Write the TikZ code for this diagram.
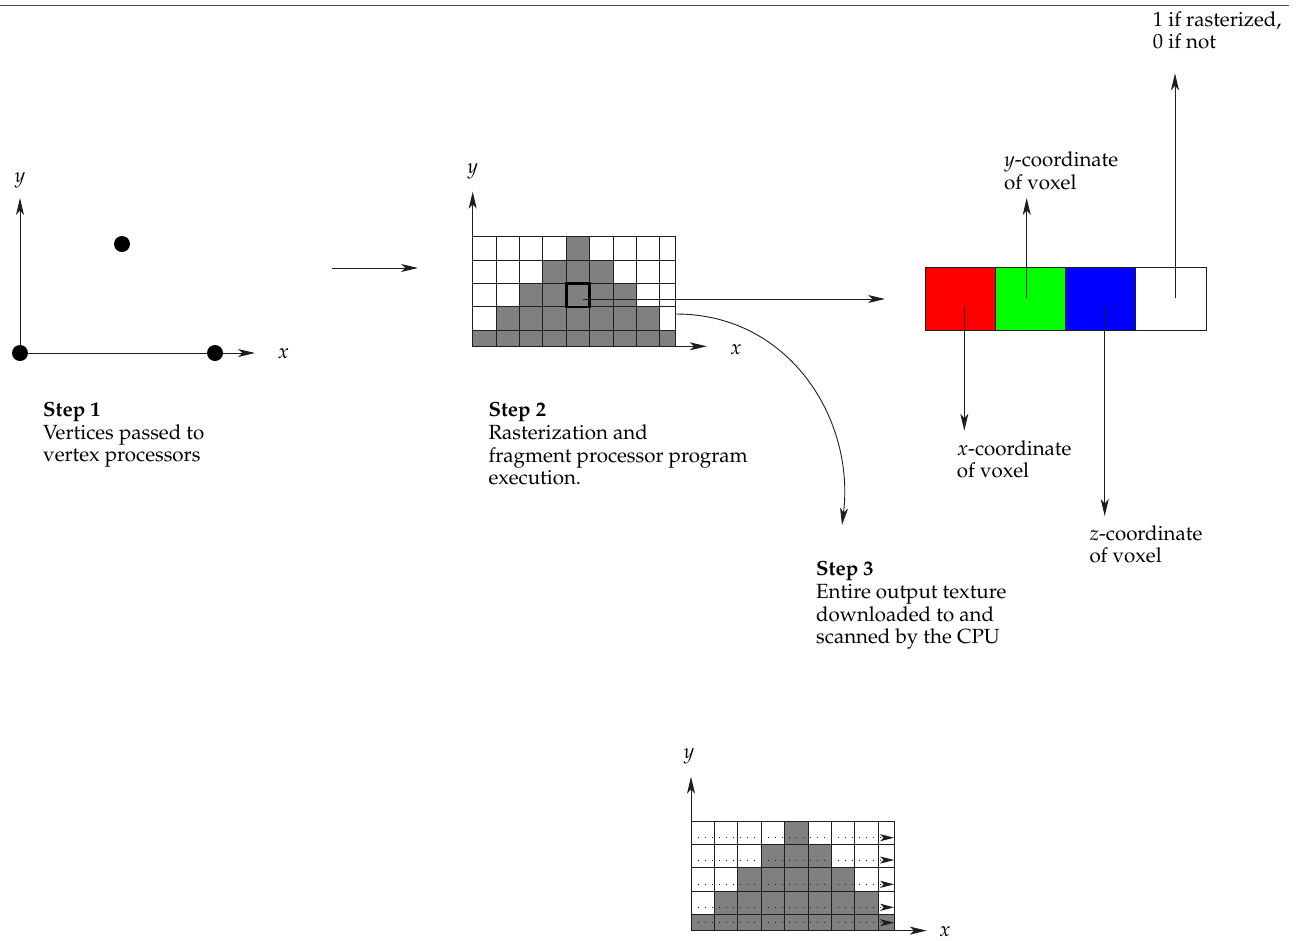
\documentclass[tikz,border=0pt]{standalone}
\usepackage[T1]{fontenc}
\usepackage{mathpazo}
\usetikzlibrary{arrows.meta,calc}
\definecolor{cellgray}{RGB}{128,128,128}
\definecolor{ink}{RGB}{30,30,30}

% one raster of fragments: 8 full columns plus a partial one, 4 full rows plus a partial one
\tikzset{
  gridline/.style={draw=ink, line width=1pt},
  raster/.pic={
    \def\rcell{23.4}
    \fill[cellgray] (4*\rcell,0) rectangle (5*\rcell,\rcell);
    \fill[cellgray] (3*\rcell,\rcell) rectangle (6*\rcell,2*\rcell);
    \fill[cellgray] (2*\rcell,2*\rcell) rectangle (7*\rcell,3*\rcell);
    \fill[cellgray] (\rcell,3*\rcell) rectangle (8*\rcell,4*\rcell);
    \fill[cellgray] (0,4*\rcell) rectangle (203.2,109.6);
    \foreach \k in {1,...,8} \draw[gridline] (\k*\rcell,0) -- (\k*\rcell,109.6);
    \foreach \k in {1,...,4} \draw[gridline] (0,\k*\rcell) -- (203.2,\k*\rcell);
    \draw[gridline] (0,0) rectangle (203.2,109.6);
    \coordinate (-nw) at (0,0);
    \coordinate (-sw) at (0,109.6);
    \coordinate (-ne) at (203.2,0);
  }
}

\begin{document}
\begin{tikzpicture}[x=1pt,y=-1pt,
  txt/.style={font=\fontsize{20.5}{22.7}\selectfont, inner sep=0pt, anchor=north west, align=left},
  axlabel/.style={font=\fontsize{20.5}{22.7}\selectfont, inner sep=0pt},
  arr/.style={draw=ink, line width=1pt, -{Stealth[length=17pt,width=8pt,inset=4.5pt]}},
  thinarr/.style={draw=ink, line width=0.9pt, -{Stealth[length=17pt,width=8pt,inset=4.5pt]}},
  scanarr/.style={draw=ink, line width=1pt, dash pattern=on 1.2pt off 5.8pt,
                  -{Stealth[length=14pt,width=7pt,inset=3.5pt]}},
  vtx/.style={circle, fill=black, minimum size=16pt, inner sep=0pt},
  cell/.style={draw=ink, line width=1pt, minimum width=70.2pt, minimum height=62.3pt,
               inner sep=0pt, outer sep=0pt, anchor=north west},
]
\useasboundingbox (0,0) rectangle (1297,940);

% rule along the top edge
\draw[line width=1.4pt, black!70] (0,5.5) -- (1289,5.5);

% ---------- Step 1: vertices ----------
\coordinate (o1) at (20,353);
\coordinate (y1) at (20,198);
\coordinate (x1) at (255,353);
\draw[arr] (o1) -- (y1);
\draw[arr] (o1) -- (x1);
\node[vtx] (v1) at (o1) {};
\node[vtx] (v2) at (215,353) {};
\node[vtx] (v3) at (122,244) {};
\node[axlabel] (ly1) at (20,180) {$y$};
\node[axlabel] (lx1) at (283.3,353.3) {$x$};
\node[txt] (step1) at (43,400.3) {\strut\textbf{Step 1}\\Vertices passed to\\vertex processors};

% Step 1 -> Step 2
\coordinate (s1out) at (332,268);
\coordinate (s2in) at (418,268);
\draw[arr] (s1out) -- (s2in);

% ---------- Step 2: rasterization ----------
\pic (g2) at (472.7,236.7) {raster};
\coordinate (y2) at (472.7,191.7);
\coordinate (x2) at (706.7,346.3);
\draw[arr] (g2-sw) -- (y2);
\draw[arr] (g2-sw) -- (x2);
\node[axlabel] (ly2) at (472.7,171.7) {$y$};
\node[axlabel] (lx2) at (736,350) {$x$};
\node[draw=black, line width=2.8pt, minimum size=23.4pt, inner sep=0pt] (hl) at (578,295.2) {};
\coordinate (hlc) at (583,299);
\node[txt] (step2) at (488.3,400.8) {\strut\textbf{Step 2}\\Rasterization and\\fragment processor program\\execution.};

% ---------- output texel ----------
\node[cell, fill=red] (cr) at (925.3,267.7) {};
\node[cell, fill=green] (cg) at (995.5,267.7) {};
\node[cell, fill=blue] (cb) at (1065.7,267.7) {};
\node[cell, fill=white] (ca) at (1135.9,267.7) {};
\coordinate (texin) at (885,299);
\draw[arr] (hlc) -- (texin);

\coordinate (rin) at (964.3,307.3);
\coordinate (rout) at (964.3,430.7);
\coordinate (gin) at (1026.7,298.3);
\coordinate (gout) at (1026.7,198);
\coordinate (bin) at (1104.7,307.3);
\coordinate (bout) at (1104.7,516);
\coordinate (ain) at (1175,298.3);
\coordinate (aout) at (1175,73.3);
\draw[arr] (rin) -- (rout);
\draw[arr] (gin) -- (gout);
\draw[arr] (bin) -- (bout);
\draw[arr] (ain) -- (aout);

\node[txt] (lr) at (956.7,439.1) {\strut$x$-coordinate\\of voxel};
\node[txt] (lg) at (1004,150.8) {\strut$y$-coordinate\\of voxel};
\node[txt] (lb) at (1089.3,524.1) {\strut$z$-coordinate\\of voxel};
\node[txt] (la) at (1152.7,10.1) {\strut1 if rasterized,\\0 if not};

% ---------- Step 3: read back ----------
\coordinate (g2out) at (676,314);
\coordinate (s3in) at (842,525);
\draw[thinarr] (g2out) .. controls (790,314) and (855,420) .. (s3in);
\node[txt] (step3) at (816,559.5) {\strut\textbf{Step 3}\\Entire output texture\\downloaded to and\\scanned by the CPU};

% scanned texture
\pic (g3) at (691,821) {raster};
\coordinate (y3) at (691,776.7);
\coordinate (x3) at (926.7,930.6);
\draw[arr] (g3-sw) -- (y3);
\draw[arr] (g3-sw) -- (x3);
\node[axlabel] (ly3) at (689,756.7) {$y$};
\node[axlabel] (lx3) at (945,931.5) {$x$};
\foreach \off [count=\i] in {16.7,39,63.3,86.3,101.7} {
  \coordinate (scan\i a) at ($(g3-nw)+(0,\off)$);
  \coordinate (scan\i b) at ($(g3-ne)+(0,\off)$);
  \draw[scanarr] (scan\i a) -- (scan\i b);
}
\end{tikzpicture}
\end{document}
